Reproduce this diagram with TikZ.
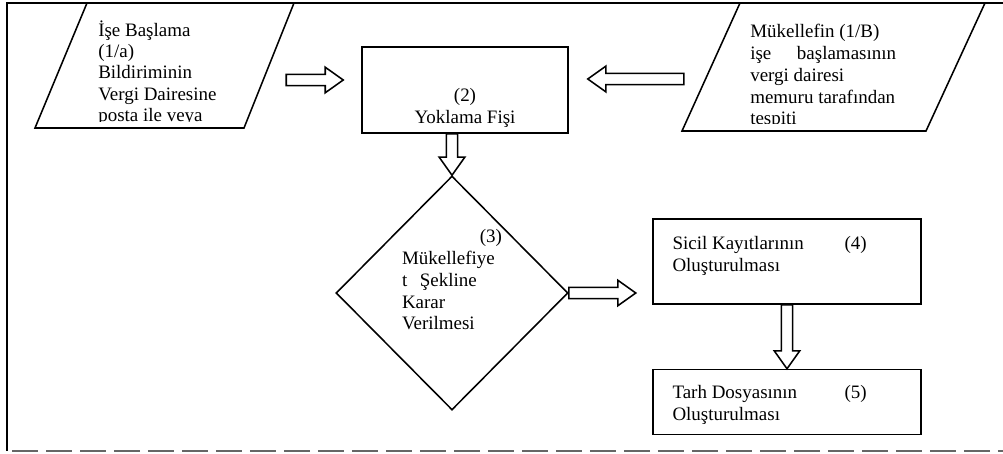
\documentclass[tikz,border=0pt]{standalone}
\usepackage{fontspec}
\setmainfont{Liberation Serif}
\usepackage{tikz}
\usetikzlibrary{positioning,calc,shapes.geometric}

\newcommand{\arrhead}{0.45cm}
\newcommand{\arrshaft}{0.14cm}
\newcommand{\arrwing}{0.32cm}
% hollow block arrow from #1 to #2
\newcommand{\blockarrow}[2]{%
  \coordinate (neck) at ($(#2)!\arrhead!(#1)$);
  \draw[blockline] ($(#1)!\arrshaft!90:(#2)$) -- ($(neck)!\arrshaft!90:(#2)$)
    -- ($(neck)!\arrwing!90:(#2)$) -- (#2) -- ($(neck)!\arrwing!270:(#2)$)
    -- ($(neck)!\arrshaft!270:(#2)$) -- ($(#1)!\arrshaft!270:(#2)$) -- cycle;}

\begin{document}
\begin{tikzpicture}[font=\fontsize{13.5}{15.5}\selectfont,
  shapeline/.style={draw,line width=1.1pt},
  blockline/.style={draw,line width=1.1pt},
  procbox/.style={shapeline,rectangle,minimum width=6.7cm,inner sep=0pt},
  decision/.style={shapeline,diamond,inner sep=0pt,minimum width=5.8cm,minimum height=5.85cm},
  txt/.style={inner sep=0pt,align=left}]
  \useasboundingbox (0,0) rectangle (25.075,-11.35);
  % frame
  \draw[line width=1.3pt] (25.075,-0.075) -- (0.175,-0.075) -- (0.175,-11.275);
  \draw[black!60,line width=1.1pt,dash pattern=on 0.65cm off 0.2cm] (0.3,-11.275) -- (25.075,-11.275);
  % inputs
  \draw[shapeline] (2.175,-0.075) -- (7.35,-0.075) -- (6.1,-3.2) -- (0.875,-3.2) -- cycle;
  \draw[shapeline] (18.5,-0.075) -- (24.625,-0.075) -- (23.15,-3.275) -- (17.05,-3.275) -- cycle;
  \begin{scope}
    \clip (0,0) rectangle (8,-3.05);
    \node (basla) [txt,anchor=north west,font=\fontsize{13.5}{15}\selectfont] at (2.45,-0.52) {İşe Başlama\\(1/a)\\Bildiriminin\\Vergi Dairesine\\posta ile veya};
  \end{scope}
  \begin{scope}
    \clip (16,0) rectangle (25,-3.1);
    \node (tespit) [txt,anchor=north west] at (18.75,-0.6) {Mükellefin (1/B)\\işe\hspace{1.35em}başlamasının\\vergi dairesi\\memuru tarafından\\tespiti};
  \end{scope}
  % steps
  \node (fis) [shapeline,minimum width=5.15cm,minimum height=2.15cm,inner sep=0pt] at (11.625,-2.25) {};
  \node (fis-t) [txt,align=center] at ($(fis.center)+(0,-0.45)$) {(2)\\Yoklama Fişi};
  \node (dec) [decision] at (11.3,-7.325) {};
  \node (dec-t) [txt,text width=2.5cm] at ($(dec.center)+(0,0.33)$) {\hfill(3)\\Mükellefiye\\t\ \ Şekline\\Karar\\Verilmesi};
  \node (sicil) [procbox,minimum height=2.125cm] at (19.675,-6.5375) {};
  \node (tarh) [procbox,minimum height=1.625cm,below=1.6cm of sicil] {};
  \node (sicil-t) [txt,anchor=north west] at ($(sicil.north west)+(0.5,-0.45)$) {\makebox[4.3cm][l]{Sicil Kayıtlarının}(4)\\Oluşturulması};
  \node (tarh-t) [txt,anchor=north west] at ($(tarh.north west)+(0.5,-0.4)$) {\makebox[4.3cm][l]{Tarh Dosyasının}(5)\\Oluşturulması};
  % arrows
  \coordinate (basla-out) at ($(fis.west)+(-1.875,0.25)$);
  \coordinate (fis-inL) at ($(fis.west)+(-0.45,0.25)$);
  \coordinate (tespit-out) at ($(fis.east)+(2.875,0.275)$);
  \coordinate (fis-inR) at ($(fis.east)+(0.475,0.275)$);
  \coordinate (fis-out) at (fis.south -| dec.north);
  \coordinate (sicil-in) at ($(dec.east)+(1.675,0)$);
  \blockarrow{basla-out}{fis-inL}
  \blockarrow{tespit-out}{fis-inR}
  \blockarrow{fis-out}{dec.north}
  \blockarrow{dec.east}{sicil-in}
  \blockarrow{sicil.south}{tarh.north}
\end{tikzpicture}
\end{document}
